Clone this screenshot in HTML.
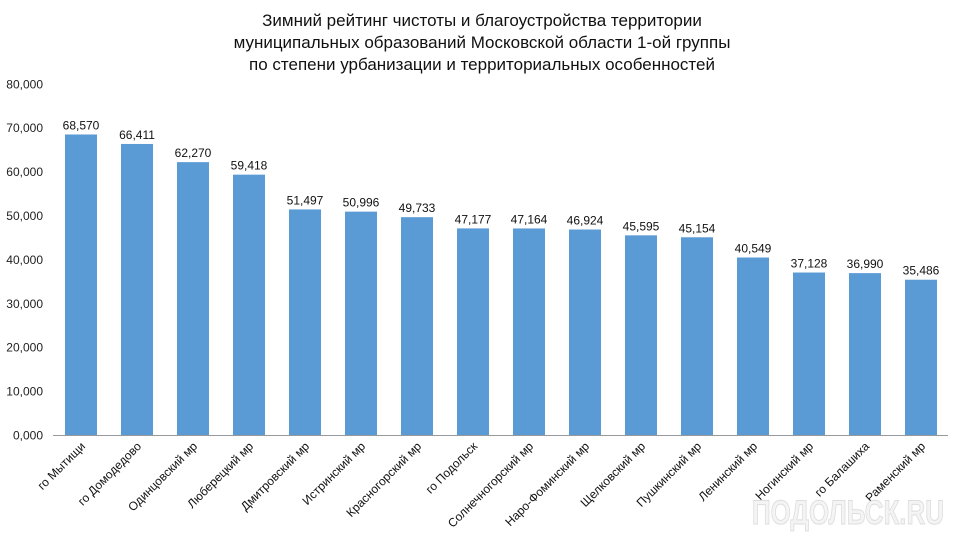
<!DOCTYPE html>
<html><head><meta charset="utf-8"><style>
body{margin:0;background:#fff}
svg{display:block;font-family:"Liberation Sans",Arial,sans-serif}
</style></head><body>
<svg width="960" height="541" viewBox="0 0 960 541" xmlns="http://www.w3.org/2000/svg">
<rect width="960" height="541" fill="#fff"/>
<g font-size="17" text-anchor="middle" fill="#111">
<text x="482" y="26">Зимний рейтинг чистоты и благоустройства территории</text>
<text x="482" y="48">муниципальных образований Московской области 1-ой группы</text>
<text x="482" y="70">по степени урбанизации и территориальных особенностей</text>
</g>
<g font-size="12" text-anchor="end" fill="#222" id="yl"></g>
<g id="bars"></g>
<line x1="53" y1="435.5" x2="948" y2="435.5" stroke="#999" stroke-width="1"/>
<text x="752" y="524" font-size="34" font-weight="bold" textLength="192" lengthAdjust="spacingAndGlyphs" fill="#f4f4f4" stroke="#ddd" stroke-width="1">ПОДОЛЬСК.RU</text>
<script>
var ns="http://www.w3.org/2000/svg";
function el(t,a,txt){var e=document.createElementNS(ns,t);for(var k in a)e.setAttribute(k,a[k]);if(txt!=null)e.textContent=txt;return e;}
var yl=document.getElementById('yl');
for(var i=0;i<=8;i++){var y=435.5-i*43.9;yl.appendChild(el('text',{x:43,y:y+4},(i*10)+',000'));}
var d=[["го Мытищи",68.570,"68,570"],["го Домодедово",66.411,"66,411"],["Одинцовский мр",62.270,"62,270"],["Люберецкий мр",59.418,"59,418"],["Дмитровский мр",51.497,"51,497"],["Истринский мр",50.996,"50,996"],["Красногорский мр",49.733,"49,733"],["го Подольск",47.177,"47,177"],["Солнечногорский мр",47.164,"47,164"],["Наро-Фоминский мр",46.924,"46,924"],["Щелковский мр",45.595,"45,595"],["Пушкинский мр",45.154,"45,154"],["Ленинский мр",40.549,"40,549"],["Ногинский мр",37.128,"37,128"],["го Балашиха",36.990,"36,990"],["Раменский мр",35.486,"35,486"]];
var g=document.getElementById('bars');
d.forEach(function(r,i){var x=65+i*56,h=r[1]*4.39,y=435.5-h,c=x+16;
g.appendChild(el('rect',{x:x,y:y,width:32,height:h,fill:'#5b9bd5'}));
g.appendChild(el('text',{x:c,y:y-5,'font-size':12,'text-anchor':'middle',fill:'#111'},r[2]));
g.appendChild(el('text',{x:0,y:0,'font-size':12,'text-anchor':'end',fill:'#111',transform:'translate('+(c+5)+',447) rotate(-45)'},r[0]));
});
</script>
</svg>
</body></html>
